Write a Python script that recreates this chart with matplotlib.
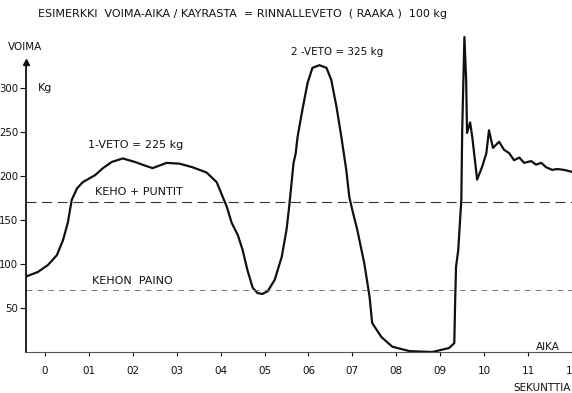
import matplotlib
matplotlib.use("Agg")
import matplotlib.pyplot as plt

# force curve: time in seconds, force in kg
time_s = [-0.042, -0.016, 0.007, 0.027, 0.041, 0.052, 0.061, 0.073, 0.086, 0.114,
          0.132, 0.152, 0.177, 0.205, 0.227, 0.245, 0.277, 0.307, 0.336, 0.368,
          0.391, 0.405, 0.414, 0.425, 0.439, 0.450, 0.461, 0.473, 0.484, 0.495,
          0.507, 0.523, 0.539, 0.550, 0.556, 0.561, 0.566, 0.571, 0.575, 0.586,
          0.598, 0.609, 0.625, 0.641, 0.652, 0.664, 0.675, 0.686, 0.693, 0.700,
          0.711, 0.727, 0.739, 0.745, 0.766, 0.791, 0.830, 0.882, 0.920, 0.932,
          0.934, 0.936, 0.941, 0.948, 0.950, 0.955, 0.959, 0.961, 0.968, 0.973,
          0.984, 0.995, 1.005, 1.011, 1.020, 1.034, 1.045, 1.057, 1.068, 1.080,
          1.091, 1.107, 1.118, 1.130, 1.141, 1.155, 1.166, 1.182, 1.198]
force_kg = [86, 91, 99, 110, 127, 147, 173, 186, 193, 201,
            209, 216, 220, 216, 212, 209, 215, 214, 210, 204,
            193, 176, 165, 147, 133, 116, 93, 73, 67, 66,
            69, 82, 108, 139, 165, 190, 215, 226, 244, 275,
            306, 323, 326, 323, 309, 278, 244, 207, 176, 161,
            139, 101, 63, 33, 17, 6, 1, 0, 4.5, 10,
            59, 97, 116, 173, 252, 358, 309, 249, 261, 244,
            196, 210, 226, 252, 232, 239, 230, 226, 218, 221,
            215, 217, 213, 215, 210, 207, 208, 207, 205]

body_plus_weights = 170   # KEHO + PUNTIT
body_weight = 70          # KEHON PAINO

x_ticks = [0.0, 0.1, 0.2, 0.3, 0.4, 0.5, 0.6, 0.7, 0.8, 0.9, 1.0, 1.1, 1.2]
x_labels = ["0", "01", "02", "03", "04", "05", "06", "07", "08", "09", "10", "11", "12"]
y_ticks = [50, 100, 150, 200, 250, 300]
y_labels = ["50", "100", "150", "200", "250", "300"]

W, H = 572, 393
fig = plt.figure(figsize=(W / 100, H / 100), dpi=100)
ax = fig.add_axes([26 / W, (H - 352) / H, 1 - 26 / W, (352 - 30) / H])
ax.set_xlim(-0.0432, 1.2)
ax.set_ylim(0, 366)

ink = "#111111"
fs = 8

ax.plot(time_s, force_kg, color=ink, lw=1.6, solid_joinstyle="round")
ax.axhline(body_plus_weights, color="#333333", lw=0.8, dashes=(9, 5))
ax.axhline(body_weight, color="#666666", lw=0.6, dashes=(7, 6))

for s in ["top", "right"]:
    ax.spines[s].set_visible(False)
ax.spines["left"].set_bounds(0, 326)
ax.spines["left"].set_linewidth(1.3)
ax.spines["left"].set_color(ink)
ax.spines["bottom"].set_linewidth(0.8)
ax.spines["bottom"].set_color("#555555")
ax.plot([-0.0432], [330], marker="^", ms=4, color=ink, clip_on=False)

ax.set_xticks(x_ticks)
ax.set_xticklabels(x_labels)
ax.set_yticks(y_ticks)
ax.set_yticklabels(y_labels)
ax.tick_params(axis="x", length=3, width=0.8, pad=7, labelsize=7.5, colors=ink)
ax.tick_params(axis="y", length=4, width=0.8, pad=1.5, labelsize=7.3, colors=ink)

ax.text(0.098, 235, "1-VETO = 225 kg", fontsize=fs, ha="left", va="center", color=ink)
ax.text(0.561, 341, "2 -VETO = 325 kg", fontsize=7.5, ha="left", va="center", color=ink)
ax.text(0.114, 182, "KEHO + PUNTIT", fontsize=fs, ha="left", va="center", color=ink)
ax.text(0.107, 81, "KEHON  PAINO", fontsize=fs, ha="left", va="center", color=ink)
ax.text(1.118, 6, "AIKA", fontsize=7.5, ha="left", va="center", color=ink)
ax.text(-0.016, 300, "Kg", fontsize=fs, ha="left", va="center", color=ink)

fig.text(513 / W, 1 - 388 / H, "SEKUNTTIA", fontsize=7.5, ha="left", va="center", color=ink)
fig.text(8 / W, 1 - 47 / H, "VOIMA", fontsize=7.5, ha="left", va="center", color=ink)
fig.text(38 / W, 1 - 14 / H,
         "ESIMERKKI  VOIMA-AIKA / KAYRASTA  = RINNALLEVETO  ( RAAKA )  100 kg",
         fontsize=fs, ha="left", va="center", color=ink)

fig.savefig("out.png", dpi=100)
